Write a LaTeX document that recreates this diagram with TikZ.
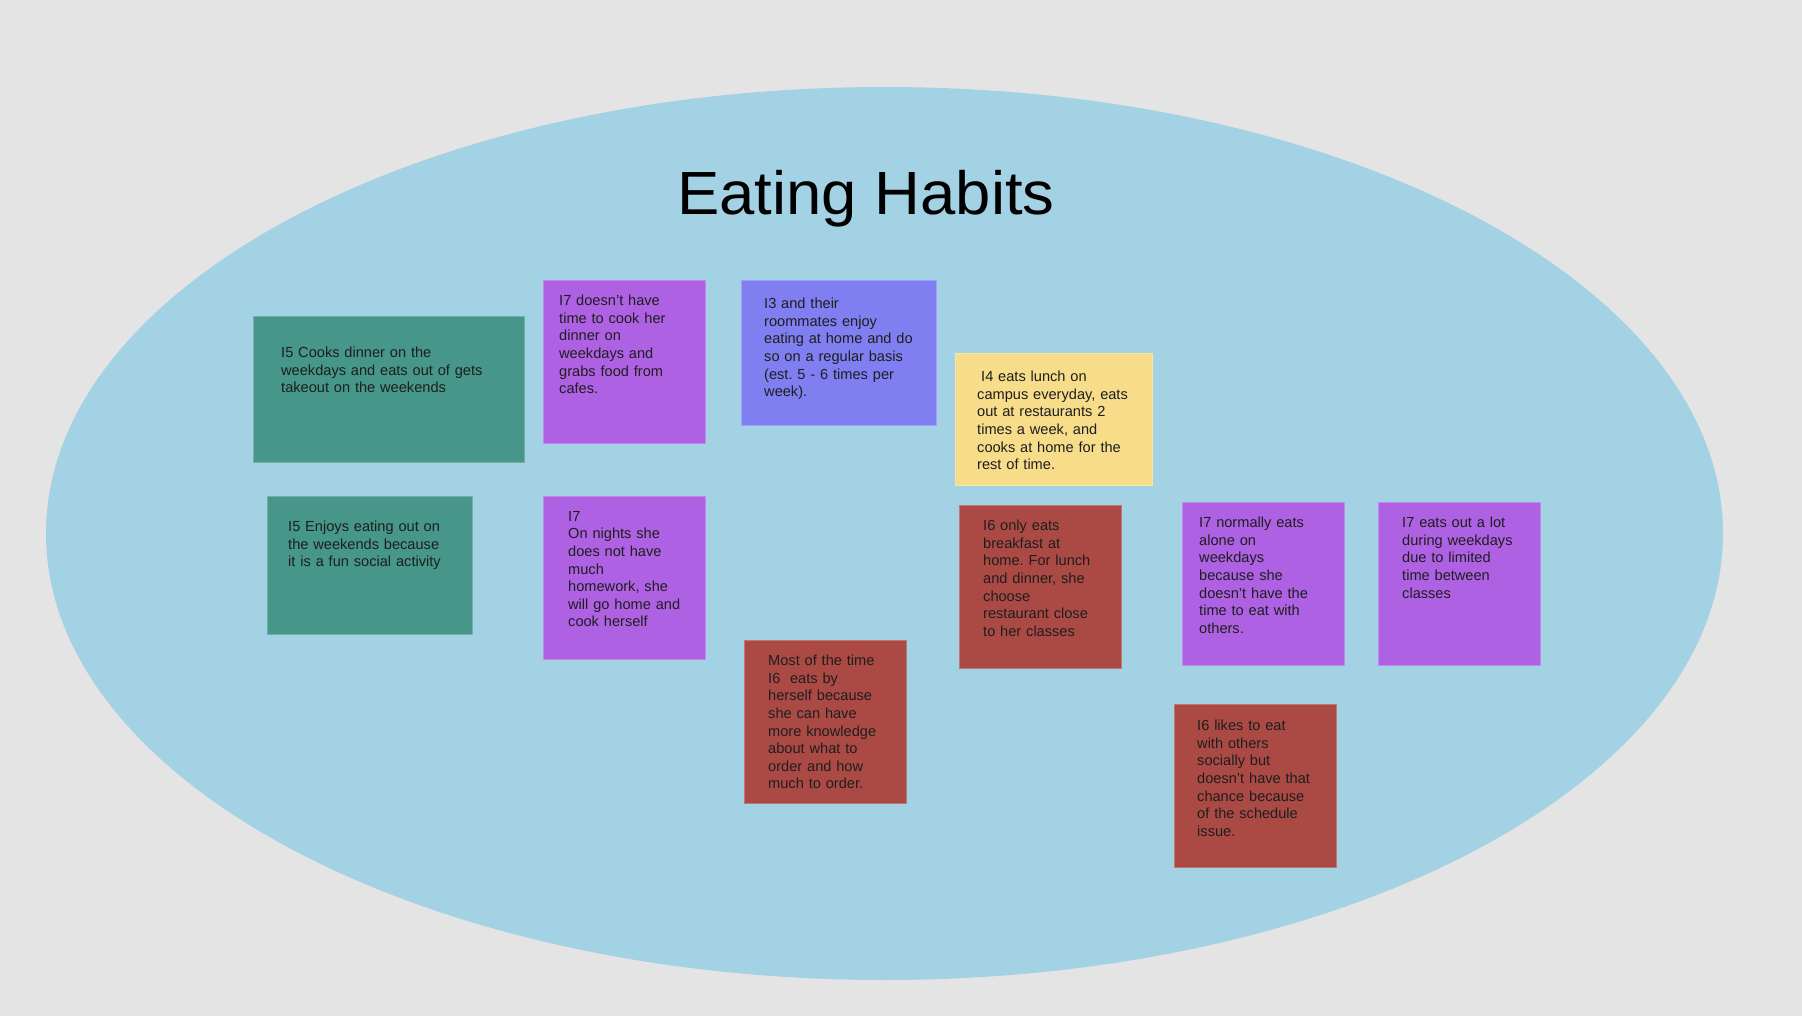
\documentclass[tikz,border=0pt]{standalone}
\usepackage{fontspec}
\setmainfont{Liberation Sans}
\usetikzlibrary{calc,shapes.geometric}
\definecolor{bgc}{HTML}{E4E4E4}
\definecolor{ellc}{HTML}{A3D2E5}
\definecolor{tealc}{HTML}{46968A}
\definecolor{purc}{HTML}{AF61E3}
\definecolor{bluec}{HTML}{7F7FF2}
\definecolor{yelc}{HTML}{F7DD8A}
\definecolor{redc}{HTML}{AB4A45}
\definecolor{txtc}{HTML}{1E1E1E}
\frenchspacing
\tikzset{
  note/.style={rectangle, inner sep=0pt, anchor=north west, line width=0.8pt},
  notetext/.style={anchor=north west, inner sep=0pt, align=left, text=txtc,
    font=\fontsize{14.6}{17.6}\selectfont},
}
\begin{document}
\begin{tikzpicture}[x=1pt,y=-1pt]
\useasboundingbox (0,0) rectangle (1802,1016);
\fill[bgc] (0,0) rectangle (1802,1016);
\node[ellipse, draw=none, fill=ellc, minimum width=1677pt, minimum height=893pt, inner sep=0pt] (ell) at (884.5,533.5) {};
\node[anchor=base, text=black, inner sep=0pt, font=\fontsize{61}{70}\selectfont] (title) at (866,215) {\scalebox{1.04}[1]{Eating Habits}};

% notes
\node[note, fill=tealc, draw=tealc!75!white, minimum width=271pt, minimum height=146pt] (n1) at (253,316) {};
\node[notetext, text width=230pt] (t1) at (281,347) {I5 Cooks dinner on the\\weekdays and eats out of gets\\takeout on the weekends};

\node[note, fill=purc, draw=purc!75!white, minimum width=162pt, minimum height=163pt] (n2) at (543,280) {};
\node[notetext, text width=140pt] (t2) at (559,295) {I7 doesn’t have\\time to cook her\\dinner on\\weekdays and\\grabs food from\\cafes.};

\node[note, fill=tealc, draw=tealc!75!white, minimum width=205pt, minimum height=138pt] (n3) at (267,496) {};
\node[notetext, text width=180pt] (t3) at (288,521) {I5 Enjoys eating out on\\the weekends because\\it is a fun social activity};

\node[note, fill=purc, draw=purc!75!white, minimum width=162pt, minimum height=163pt] (n4) at (543,496) {};
\node[notetext, text width=135pt] (t4) at (568,511) {I7\\On nights she\\does not have\\much\\homework, she\\will go home and\\cook herself};

\node[note, fill=bluec, draw=bluec!75!white, minimum width=195pt, minimum height=145pt] (n5) at (741,280) {};
\node[notetext, text width=170pt] (t5) at (764,298) {I3 and their\\roommates enjoy\\eating at home and do\\so on a regular basis\\(est. 5 - 6 times per\\week).};

\node[note, fill=yelc, draw=yelc!75!white, minimum width=197pt, minimum height=132pt] (n6) at (955,353) {};
\node[notetext, text width=175pt] (t6) at (977,371) {\hspace{4pt}I4 eats lunch on\\campus everyday, eats\\out at restaurants 2\\times a week, and\\cooks at home for the\\rest of time.};

\node[note, fill=redc, draw=redc!75!white, minimum width=162pt, minimum height=163pt] (n7) at (959,505) {};
\node[notetext, text width=140pt] (t7) at (983,520) {I6 only eats\\breakfast at\\home. For lunch\\and dinner, she\\choose\\restaurant close\\to her classes};

\node[note, fill=redc, draw=redc!75!white, minimum width=162pt, minimum height=163pt] (n8) at (744,640) {};
\node[notetext, text width=140pt] (t8) at (768,655) {Most of the time\\I6\ \ eats by\\herself because\\she can have\\more knowledge\\about what to\\order and how\\much to order.};

\node[note, fill=purc, draw=purc!75!white, minimum width=162pt, minimum height=163pt] (n9) at (1182,502) {};
\node[notetext, text width=140pt] (t9) at (1199,517) {I7 normally eats\\alone on\\weekdays\\because she\\doesn’t have the\\time to eat with\\others.};

\node[note, fill=purc, draw=purc!75!white, minimum width=162pt, minimum height=163pt] (n10) at (1378,502) {};
\node[notetext, text width=140pt] (t10) at (1402,517) {I7 eats out a lot\\during weekdays\\due to limited\\time between\\classes};

\node[note, fill=redc, draw=redc!75!white, minimum width=162pt, minimum height=163pt] (n11) at (1174,704) {};
\node[notetext, text width=140pt] (t11) at (1197,720) {I6 likes to eat\\with others\\socially but\\doesn't have that\\chance because\\of the schedule\\issue.};
\end{tikzpicture}
\end{document}
